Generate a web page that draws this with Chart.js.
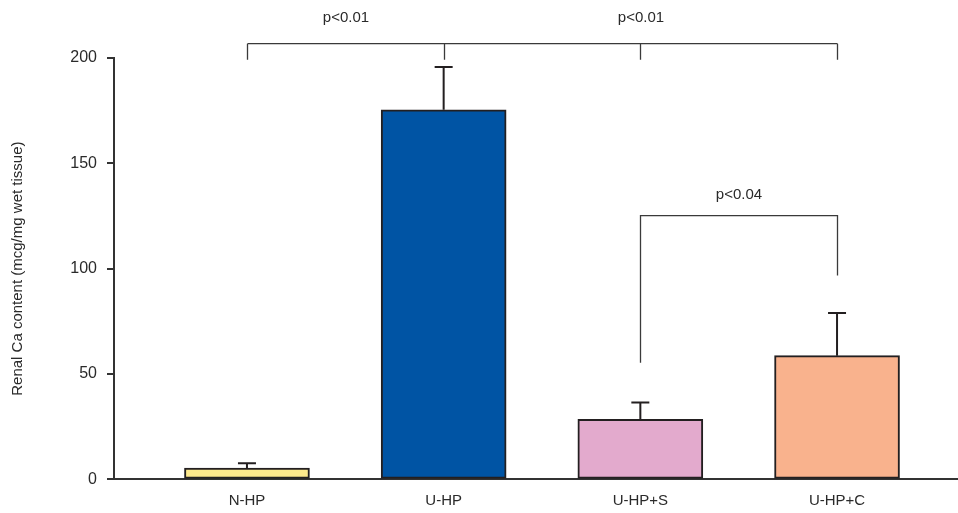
<!DOCTYPE html>
<html>
<head>
<meta charset="utf-8">
<script src="https://cdn.jsdelivr.net/npm/chart.js@4"></script>
<style>
  html, body { margin: 0; padding: 0; background: #fff; }
  #wrap { width: 958px; height: 513px; }
</style>
</head>
<body>
<div id="wrap"><canvas id="chart" width="958" height="513"></canvas></div>
<script>
// Data
const groups = ['N-HP', 'U-HP', 'U-HP+S', 'U-HP+C'];
const means = [5.3, 175.4, 28.5, 58.7];
const sdUpper = [2.3, 20.3, 7.9, 20.2];
const barColors = ['#FDE98C', '#0054A4', '#E3AACD', '#F9B28D'];
const yTicks = [0, 50, 100, 150, 200];
const pLabels = ['p<0.01', 'p<0.01', 'p<0.04'];

const ink = '#231F20';
const font = "'Liberation Sans', Arial, sans-serif";

// Upper error bars
const errorBars = {
  id: 'errorBars',
  afterDatasetsDraw(chart) {
    const ctx = chart.ctx;
    const y = chart.scales.y;
    const meta = chart.getDatasetMeta(0);
    ctx.save();
    ctx.strokeStyle = ink;
    ctx.lineWidth = 2;
    meta.data.forEach((bar, i) => {
      const top = y.getPixelForValue(means[i] + sdUpper[i]);
      ctx.beginPath();
      ctx.moveTo(bar.x, bar.y);
      ctx.lineTo(bar.x, top);
      ctx.moveTo(bar.x - 9, top);
      ctx.lineTo(bar.x + 9, top);
      ctx.stroke();
    });
    ctx.restore();
  }
};

// Significance brackets
const brackets = {
  id: 'brackets',
  afterDraw(chart) {
    const ctx = chart.ctx;
    const x = chart.scales.x;
    const y = chart.scales.y;
    const px = i => Math.round(x.getPixelForValue(i + 1)) + 0.5;
    ctx.save();
    ctx.strokeStyle = '#3a3a3a';
    ctx.lineWidth = 1.3;

    // top bracket across all groups
    const topY = y.getPixelForValue(206.8);
    const tickY = y.getPixelForValue(199.2);
    ctx.beginPath();
    ctx.moveTo(px(0), topY);
    ctx.lineTo(px(3), topY);
    [0, 1, 2, 3].forEach(i => {
      ctx.moveTo(px(i), topY);
      ctx.lineTo(px(i), tickY);
    });
    ctx.stroke();

    // lower bracket U-HP+S vs U-HP+C
    const midY = y.getPixelForValue(125.2);
    ctx.beginPath();
    ctx.moveTo(px(2), y.getPixelForValue(55.3));
    ctx.lineTo(px(2), midY);
    ctx.lineTo(px(3), midY);
    ctx.lineTo(px(3), y.getPixelForValue(96.7));
    ctx.stroke();

    ctx.fillStyle = '#2a2a2a';
    ctx.font = '15px ' + font;
    ctx.textAlign = 'center';
    ctx.textBaseline = 'middle';
    ctx.fillText(pLabels[0], (px(0) + px(1)) / 2, y.getPixelForValue(219.2));
    ctx.fillText(pLabels[1], (px(1) + px(3)) / 2, y.getPixelForValue(219.2));
    ctx.fillText(pLabels[2], (px(2) + px(3)) / 2, y.getPixelForValue(135.2));
    ctx.restore();
  }
};

new Chart(document.getElementById('chart'), {
  type: 'bar',
  data: {
    datasets: [{
      data: groups.map((g, i) => ({ x: i + 1, y: means[i] })),
      backgroundColor: barColors,
      borderColor: ink,
      borderWidth: 2,
      borderSkipped: false,
      barThickness: 125
    }]
  },
  options: {
    responsive: false,
    animation: false,
    layout: { padding: { top: 58, right: 0, left: 0, bottom: 0 } },
    plugins: {
      legend: { display: false },
      tooltip: { enabled: false }
    },
    scales: {
      x: {
        type: 'linear',
        offset: false,
        min: 0.324,
        max: 4.615,
        afterBuildTicks: s => { s.ticks = groups.map((g, i) => ({ value: i + 1 })); },
        afterFit: s => { s.height = 33.7; },
        grid: { display: false, drawTicks: false },
        border: { color: '#333', width: 2 },
        ticks: {
          padding: 13,
          color: '#2a2a2a',
          font: { family: font, size: 15 },
          callback: v => groups[v - 1]
        }
      },
      y: {
        min: 0,
        max: 200,
        afterBuildTicks: s => { s.ticks = yTicks.map(v => ({ value: v })); },
        afterFit: s => { s.width = 114; },
        grid: { drawOnChartArea: false, tickLength: 7, tickColor: '#333', lineWidth: 2 },
        border: { color: '#333', width: 2 },
        ticks: {
          padding: 10,
          color: '#2a2a2a',
          font: { family: font, size: 16 }
        },
        title: {
          display: true,
          text: 'Renal Ca content (mcg/mg wet tissue)',
          color: '#2a2a2a',
          font: { family: font, size: 15 },
          padding: { top: 9, bottom: 0 }
        }
      }
    }
  },
  plugins: [errorBars, brackets]
});
</script>
</body>
</html>
